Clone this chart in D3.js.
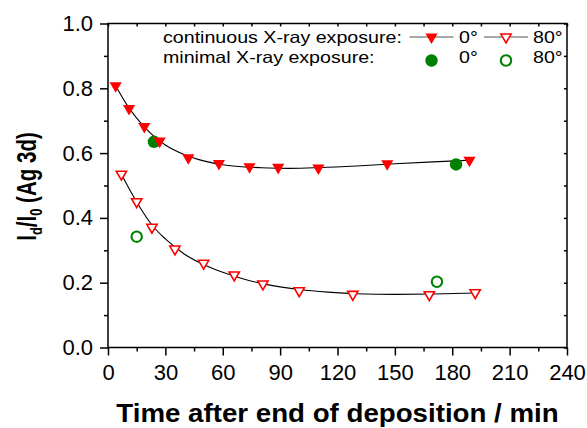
<!DOCTYPE html>
<html>
<head>
<meta charset="utf-8">
<script src="https://cdn.jsdelivr.net/npm/d3@7"></script>
<style>
  body { margin: 0; background: #fff; }
  svg { display: block; font-family: "Liberation Sans", Arial, sans-serif; }
</style>
</head>
<body>
<svg width="587" height="428"></svg>
<script>
// measured points (time in min, Id/I0)
const cont0 = [[4,0.808],[11,0.738],[19,0.682],[27,0.637],[42,0.586],[58,0.568],[74,0.558],[89,0.556],[110,0.554],[146,0.567],[189,0.578]];
const cont80 = [[7,0.535],[15,0.450],[23,0.371],[35,0.304],[50,0.260],[66,0.224],[81,0.196],[100,0.175],[128,0.164],[168,0.163],[192,0.169]];
const min0 = [[24,0.635],[182,0.565]];
const min80 = [[15,0.342],[172,0.203]];

// fit curves
const fit0 = [[4,0.808],[10,0.748],[15,0.708],[20,0.675],[25,0.647],[30,0.625],[40,0.595],[50,0.576],[60,0.564],[70,0.558],[80,0.555],[95,0.553],[110,0.555],[130,0.560],[150,0.567],[170,0.573],[189,0.578]];
const fit80 = [[7,0.535],[12,0.480],[17,0.430],[23,0.378],[30,0.335],[40,0.288],[50,0.256],[60,0.232],[70,0.213],[80,0.198],[90,0.187],[100,0.179],[115,0.171],[130,0.166],[150,0.164],[170,0.165],[192,0.168]];

const xMajor = [0,30,60,90,120,150,180,210,240];
const xMinor = [15,45,75,105,135,165,195,225];
const yMajor = [0,0.2,0.4,0.6,0.8,1.0];
const yMinor = [0.1,0.3,0.5,0.7,0.9];

const legendRows = ["continuous X-ray exposure:", "minimal X-ray exposure:"];
const angleLabels = ["0°", "80°"];

const red = "#ff0000";
const green = "#008000";

const svg = d3.select("svg");
const pLeft = 108, pRight = 567, pTop = 23.5, pBottom = 347.5;

const x = d3.scaleLinear().domain([0, 240]).range([pLeft, pRight]);
const y = d3.scaleLinear().domain([0, 1]).range([pBottom, pTop]);

// axes
function styleAxis(g) {
  g.select(".domain").remove();
  g.selectAll("line").attr("stroke", "#000").attr("stroke-width", 1.5);
  g.selectAll("text").attr("font-size", 22).attr("fill", "#000")
    .attr("font-family", "'Liberation Sans', Arial, sans-serif");
}

svg.append("g").attr("transform", `translate(0,${pBottom})`)
  .call(d3.axisBottom(x).tickValues(xMajor).tickSize(8).tickPadding(9).tickFormat(d3.format("d")))
  .call(styleAxis);
svg.append("g").attr("transform", `translate(0,${pBottom})`)
  .call(d3.axisBottom(x).tickValues(xMinor).tickSize(4).tickFormat(""))
  .call(styleAxis);
svg.append("g").attr("transform", `translate(${pLeft},0)`)
  .call(d3.axisLeft(y).tickValues(yMajor).tickSize(8).tickPadding(7).tickFormat(d3.format(".1f")))
  .call(styleAxis);
svg.append("g").attr("transform", `translate(${pLeft},0)`)
  .call(d3.axisLeft(y).tickValues(yMinor).tickSize(4).tickFormat(""))
  .call(styleAxis);
// top / right small inward ticks
svg.append("g").attr("transform", `translate(0,${pTop})`)
  .call(d3.axisTop(x).tickValues(xMajor.concat(xMinor)).tickSize(-3).tickFormat(""))
  .call(styleAxis);
svg.append("g").attr("transform", `translate(${pRight},0)`)
  .call(d3.axisRight(y).tickValues(yMajor.concat(yMinor)).tickSize(-3).tickFormat(""))
  .call(styleAxis);

svg.append("rect")
  .attr("x", pLeft).attr("y", pTop)
  .attr("width", pRight - pLeft).attr("height", pBottom - pTop)
  .attr("fill", "none").attr("stroke", "#000").attr("stroke-width", 1.5);

// fit lines
const line = d3.line().x(d => x(d[0])).y(d => y(d[1])).curve(d3.curveMonotoneX);
[fit0, fit80].forEach(f => {
  svg.append("path").attr("d", line(f))
    .attr("fill", "none").attr("stroke", "#000").attr("stroke-width", 1.1);
});

// markers
const triFilled = d3.symbol().type(d3.symbolTriangle).size(64)();
const triOpen = d3.symbol().type(d3.symbolTriangle).size(46)();

svg.selectAll(".min0").data(min0).enter().append("circle")
  .attr("cx", d => x(d[0])).attr("cy", d => y(d[1])).attr("r", 6.2)
  .attr("fill", green);
svg.selectAll(".min80").data(min80).enter().append("circle")
  .attr("cx", d => x(d[0])).attr("cy", d => y(d[1])).attr("r", 5.2)
  .attr("fill", "none").attr("stroke", green).attr("stroke-width", 2.1);

svg.selectAll(".c0").data(cont0).enter().append("path")
  .attr("d", triFilled)
  .attr("transform", d => `translate(${x(d[0])},${y(d[1])}) rotate(180)`)
  .attr("fill", red);
svg.selectAll(".c80").data(cont80).enter().append("path")
  .attr("d", triOpen)
  .attr("transform", d => `translate(${x(d[0])},${y(d[1])}) rotate(180)`)
  .attr("fill", "#fff").attr("stroke", red).attr("stroke-width", 1.6);

// legend (text slightly widened like the original export)
const lg = svg.append("g").attr("font-size", 16.5);
const legText = (tx, ty, s) => lg.append("text")
  .attr("transform", `translate(${tx},${ty}) scale(1.19,1)`).text(s);
legText(163, 43, legendRows[0]);
legText(163, 62.5, legendRows[1]);
const sampleX = [431.5, 506];
const labelX = [459, 533];
sampleX.forEach((sx, i) => {
  lg.append("line").attr("x1", sx - 22).attr("x2", sx + 22).attr("y1", 37).attr("y2", 37)
    .attr("stroke", "#555").attr("stroke-width", 1.2);
  lg.append("path").attr("d", i === 0 ? triFilled : triOpen)
    .attr("transform", `translate(${sx},37) rotate(180)`)
    .attr("fill", i === 0 ? red : "#fff")
    .attr("stroke", i === 0 ? "none" : red).attr("stroke-width", 1.6);
  legText(labelX[i], 43, angleLabels[i]);
  if (i === 0) {
    lg.append("circle").attr("cx", sx).attr("cy", 60.5).attr("r", 6.2).attr("fill", green);
  } else {
    lg.append("circle").attr("cx", sx).attr("cy", 60.5).attr("r", 5.2)
      .attr("fill", "none").attr("stroke", green).attr("stroke-width", 2.1);
  }
  legText(labelX[i], 62.5, angleLabels[i]);
});

// axis titles
svg.append("text")
  .attr("transform", `translate(${(pLeft + pRight) / 2},422) scale(1.065,1)`)
  .attr("text-anchor", "middle").attr("font-size", 26).attr("font-weight", "bold")
  .text("Time after end of deposition / min");

const yt = svg.append("text")
  .attr("transform", `translate(35.5,${(pTop + pBottom) / 2 + 1}) rotate(-90) scale(0.76,1)`)
  .attr("text-anchor", "middle").attr("font-size", 27).attr("font-weight", "bold");
yt.append("tspan").text("I");
yt.append("tspan").attr("font-size", 17).attr("dy", 6).text("d");
yt.append("tspan").attr("dy", -6).text("/I");
yt.append("tspan").attr("font-size", 17).attr("dy", 6).text("0");
yt.append("tspan").attr("dy", -6).text(" (Ag 3d)");
</script>
</body>
</html>
